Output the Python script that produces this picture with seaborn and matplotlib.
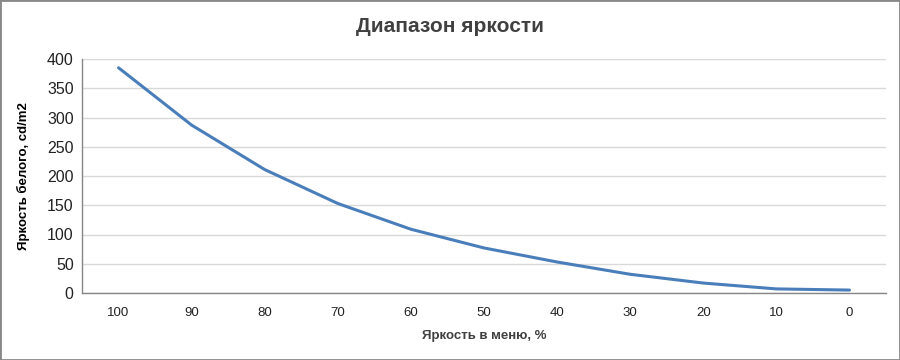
import matplotlib
matplotlib.use("Agg")
import matplotlib.pyplot as plt
import seaborn as sns
import pandas as pd

categories = ["100", "90", "80", "70", "60", "50", "40", "30", "20", "10", "0"]
values = [385, 287, 211, 153, 109, 77, 53, 32, 17, 7, 5]
yticks = [0, 50, 100, 150, 200, 250, 300, 350, 400]

sns.set_theme(style="white")
plt.rcParams["font.family"] = ["Liberation Sans", "DejaVu Sans"]

df = pd.DataFrame({"pos": range(len(categories)), "val": values})

fig = plt.figure(figsize=(9, 3.6), dpi=100)
ax = fig.add_axes([82/900, 1-293/360, (886-82)/900, (293-59)/360])
sns.lineplot(data=df, x="pos", y="val", ax=ax, color="#4a7ebb", linewidth=2.2)

ax.set_xlim(-0.5, len(categories) - 0.5)
ax.set_ylim(0, 400)
ax.set_yticks(yticks)
ax.set_yticklabels([str(t) for t in yticks], fontsize=11.5, color="#222222")
ax.set_xticks(range(len(categories)))
ax.set_xticklabels(categories, fontsize=9.5, color="#222222")
ax.tick_params(axis="both", length=0)
ax.tick_params(axis="x", pad=10)
ax.tick_params(axis="y", pad=6)
ax.yaxis.grid(True, color="#d9d9d9", linewidth=1)
ax.set_axisbelow(True)
for s in ["top", "right"]:
    ax.spines[s].set_visible(False)
for s in ["left", "bottom"]:
    ax.spines[s].set_color("#868686")
    ax.spines[s].set_linewidth(1)

ax.set_xlabel("Яркость в меню, %", fontsize=9.5, fontweight="bold", color="#404040", labelpad=8)
ax.set_ylabel("Яркость белого, cd/m2", fontsize=9.5, fontweight="bold", color="black", labelpad=12)
fig.text(0.5, 1-27/360, "Диапазон яркости", ha="center", va="center", fontsize=15,
         fontweight="bold", color="#404040")

fig.patches.append(plt.Rectangle((0, 0), 1, 1, transform=fig.transFigure, fill=False,
                                 edgecolor="#888888", linewidth=2))
fig.savefig("out.png", dpi=100, facecolor="white")
